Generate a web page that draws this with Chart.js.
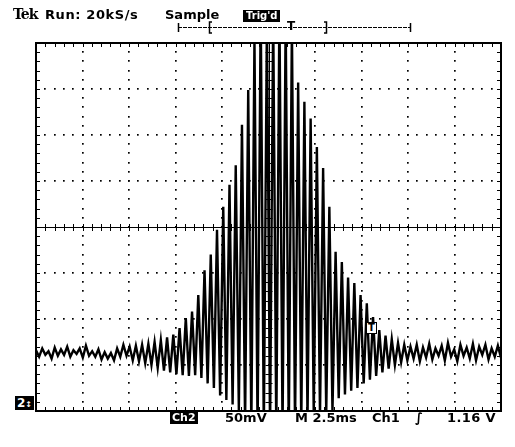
<!DOCTYPE html>
<html>
<head>
<meta charset="utf-8">
<script src="https://cdn.jsdelivr.net/npm/chart.js@4.4.1/dist/chart.umd.min.js"></script>
<style>
body { margin: 0; background: #fff; }
#wrap { position: relative; width: 515px; height: 447px; }
#scope { position: absolute; left: 0; top: 0; }
.lbl { position: absolute; font-family: "DejaVu Sans", sans-serif; font-weight: bold; font-size: 13px; line-height: 1; color: #000; white-space: nowrap; }
.inv { background: #000; color: #fff; }
</style>
</head>
<body>
<div id="wrap">
  <canvas id="scope" width="515" height="447"></canvas>
  <span class="lbl" style="left:13px;top:7px;font-family:'DejaVu Serif',serif;font-size:14px;letter-spacing:-1px;">Tek</span>
  <span class="lbl" style="left:45px;top:8px;letter-spacing:0.6px;">Run: 20kS/s</span>
  <span class="lbl" style="left:165px;top:8px;">Sample</span>
  <span class="lbl inv" style="left:243px;top:10px;font-size:10px;padding:1px 3px;">Trig'd</span>
  <span class="lbl" style="left:287px;top:20px;font-size:12px;">T</span>
  <span class="lbl" style="left:366px;top:322px;font-size:10px;border:1px solid #000;padding:0 1px;background:#fff;">T</span>
  <span class="lbl inv" style="left:15px;top:396px;font-size:12px;padding:1px 2px;">2<span style="font-size:8px;">↕</span></span>
  <span class="lbl inv" style="left:170px;top:411px;font-size:11px;padding:1px 2px;">Ch2</span>
  <span class="lbl" style="left:225px;top:411px;">50mV</span>
  <span class="lbl" style="left:295px;top:411px;">M 2.5ms</span>
  <span class="lbl" style="left:372px;top:411px;">Ch1</span>
  <span class="lbl" style="left:415px;top:411px;font-style:italic;">∫</span>
  <span class="lbl" style="left:447px;top:411px;letter-spacing:0.4px;">1.16 V</span>
</div>
<script>
// Screen: 10 divisions of 2.5 ms, 8 divisions of 50 mV
const timeDivs = [0, 2.5, 5, 7.5, 10, 12.5, 15, 17.5, 20, 22.5, 25];
const voltDivs = [-200, -150, -100, -50, 0, 50, 100, 150, 200];

// Ch2 trace, successive peaks and troughs (mV) left to right
const ch2Peaks = [
  -134, -141, -132, -139, -135, -143, -131, -140, -133, -139,
  -130, -141, -134, -138, -132, -142, -129, -140, -135, -141,
  -133, -144, -136, -143, -137, -145, -132, -141, -128, -140,
  -130, -145, -129, -146, -128, -148, -127, -150, -125, -153,
  -123, -156, -120, -158, -117, -160, -110, -161, -99, -162,
  -92, -161, -74, -164, -47, -170, -30, -175, -3, -183,
  22, -188, 46, -193, 67, -199, 111, -215, 149, -220,
  205, -225, 240, -225, 230, -225, 235, -225, 240, -225,
  230, -225, 220, -220, 157, -215, 136, -210, 118, -205,
  87, -205, 64, -202, 22, -200, -27, -186, -38, -182,
  -55, -178, -61, -175, -74, -170, -83, -166, -98, -162,
  -112, -158, -118, -154, -122, -150, -126, -147, -128, -145,
  -130, -143, -128, -146, -131, -142, -127, -144, -132, -140,
  -129, -145, -126, -141, -133, -146, -128, -140, -131, -143,
  -127, -145, -130, -139, -128, -144, -132, -141, -129, -142
];
const sweepMs = 25;
const points = ch2Peaks.map((v, i) => ({ x: i * sweepMs / (ch2Peaks.length - 1), y: v }));

const graticule = {
  id: 'graticule',
  beforeDatasetsDraw(chart) {
    const { ctx, chartArea: a, scales: { x, y } } = chart;
    const xMinor = [], yMinor = [];
    for (let t = 0; t <= sweepMs + 1e-6; t += 0.5) xMinor.push(x.getPixelForValue(t));
    for (let v = -200; v <= 200 + 1e-6; v += 10) yMinor.push(y.getPixelForValue(v));
    const cx = x.getPixelForValue(12.5), cy = y.getPixelForValue(0);
    ctx.save();
    ctx.fillStyle = '#000';
    ctx.strokeStyle = '#000';
    const dot = (px, py) => ctx.fillRect(Math.round(px) - 1, Math.round(py) - 1, 1.7, 1.7);
    // dotted division lines
    timeDivs.slice(1, -1).forEach(t => {
      if (t === 12.5) return;
      const px = x.getPixelForValue(t);
      yMinor.forEach(py => dot(px, py));
    });
    voltDivs.slice(1, -1).forEach(v => {
      if (v === 0) return;
      const py = y.getPixelForValue(v);
      xMinor.forEach(px => dot(px, py));
    });
    // centre cross with minor ticks
    ctx.lineWidth = 1;
    ctx.beginPath();
    ctx.moveTo(a.left, Math.round(cy) + 0.5); ctx.lineTo(a.right, Math.round(cy) + 0.5);
    ctx.moveTo(Math.round(cx) + 0.5, a.top); ctx.lineTo(Math.round(cx) + 0.5, a.bottom);
    xMinor.forEach(px => { ctx.moveTo(Math.round(px) + 0.5, cy - 3); ctx.lineTo(Math.round(px) + 0.5, cy + 4); });
    yMinor.forEach(py => { ctx.moveTo(cx - 3, Math.round(py) + 0.5); ctx.lineTo(cx + 4, Math.round(py) + 0.5); });
    // edge ticks
    xMinor.forEach(px => {
      ctx.moveTo(Math.round(px) + 0.5, a.top); ctx.lineTo(Math.round(px) + 0.5, a.top + 4);
      ctx.moveTo(Math.round(px) + 0.5, a.bottom); ctx.lineTo(Math.round(px) + 0.5, a.bottom - 4);
    });
    yMinor.forEach(py => {
      ctx.moveTo(a.left, Math.round(py) + 0.5); ctx.lineTo(a.left + 4, Math.round(py) + 0.5);
      ctx.moveTo(a.right, Math.round(py) + 0.5); ctx.lineTo(a.right - 4, Math.round(py) + 0.5);
    });
    ctx.stroke();
    // frame
    ctx.lineWidth = 2;
    ctx.strokeRect(a.left, a.top, a.right - a.left, a.bottom - a.top);
    // record / trigger position bar above the screen
    ctx.lineWidth = 1;
    ctx.setLineDash([4, 1]);
    ctx.beginPath();
    ctx.moveTo(178, 27.5); ctx.lineTo(410, 27.5);
    ctx.stroke();
    ctx.setLineDash([]);
    ctx.lineWidth = 1.5;
    ctx.beginPath();
    ctx.moveTo(178.5, 23); ctx.lineTo(178.5, 32);
    ctx.moveTo(410.5, 23); ctx.lineTo(410.5, 32);
    ctx.moveTo(212, 22); ctx.lineTo(209.5, 22); ctx.lineTo(209.5, 33); ctx.lineTo(212, 33);
    ctx.moveTo(324, 22); ctx.lineTo(326.5, 22); ctx.lineTo(326.5, 33); ctx.lineTo(324, 33);
    ctx.stroke();
    ctx.restore();
  }
};

new Chart(document.getElementById('scope').getContext('2d'), {
  type: 'line',
  data: {
    datasets: [{
      label: 'Ch2',
      data: points,
      borderColor: '#000',
      borderWidth: 2.4,
      pointRadius: 0,
      tension: 0
    }]
  },
  options: {
    animation: false,
    responsive: false,
    layout: { padding: { left: 36, top: 43, right: 14, bottom: 36 } },
    plugins: { legend: { display: false }, tooltip: { enabled: false } },
    scales: {
      x: { type: 'linear', min: 0, max: sweepMs, display: false },
      y: { type: 'linear', min: -200, max: 200, display: false }
    }
  },
  plugins: [graticule]
});
</script>
</body>
</html>
